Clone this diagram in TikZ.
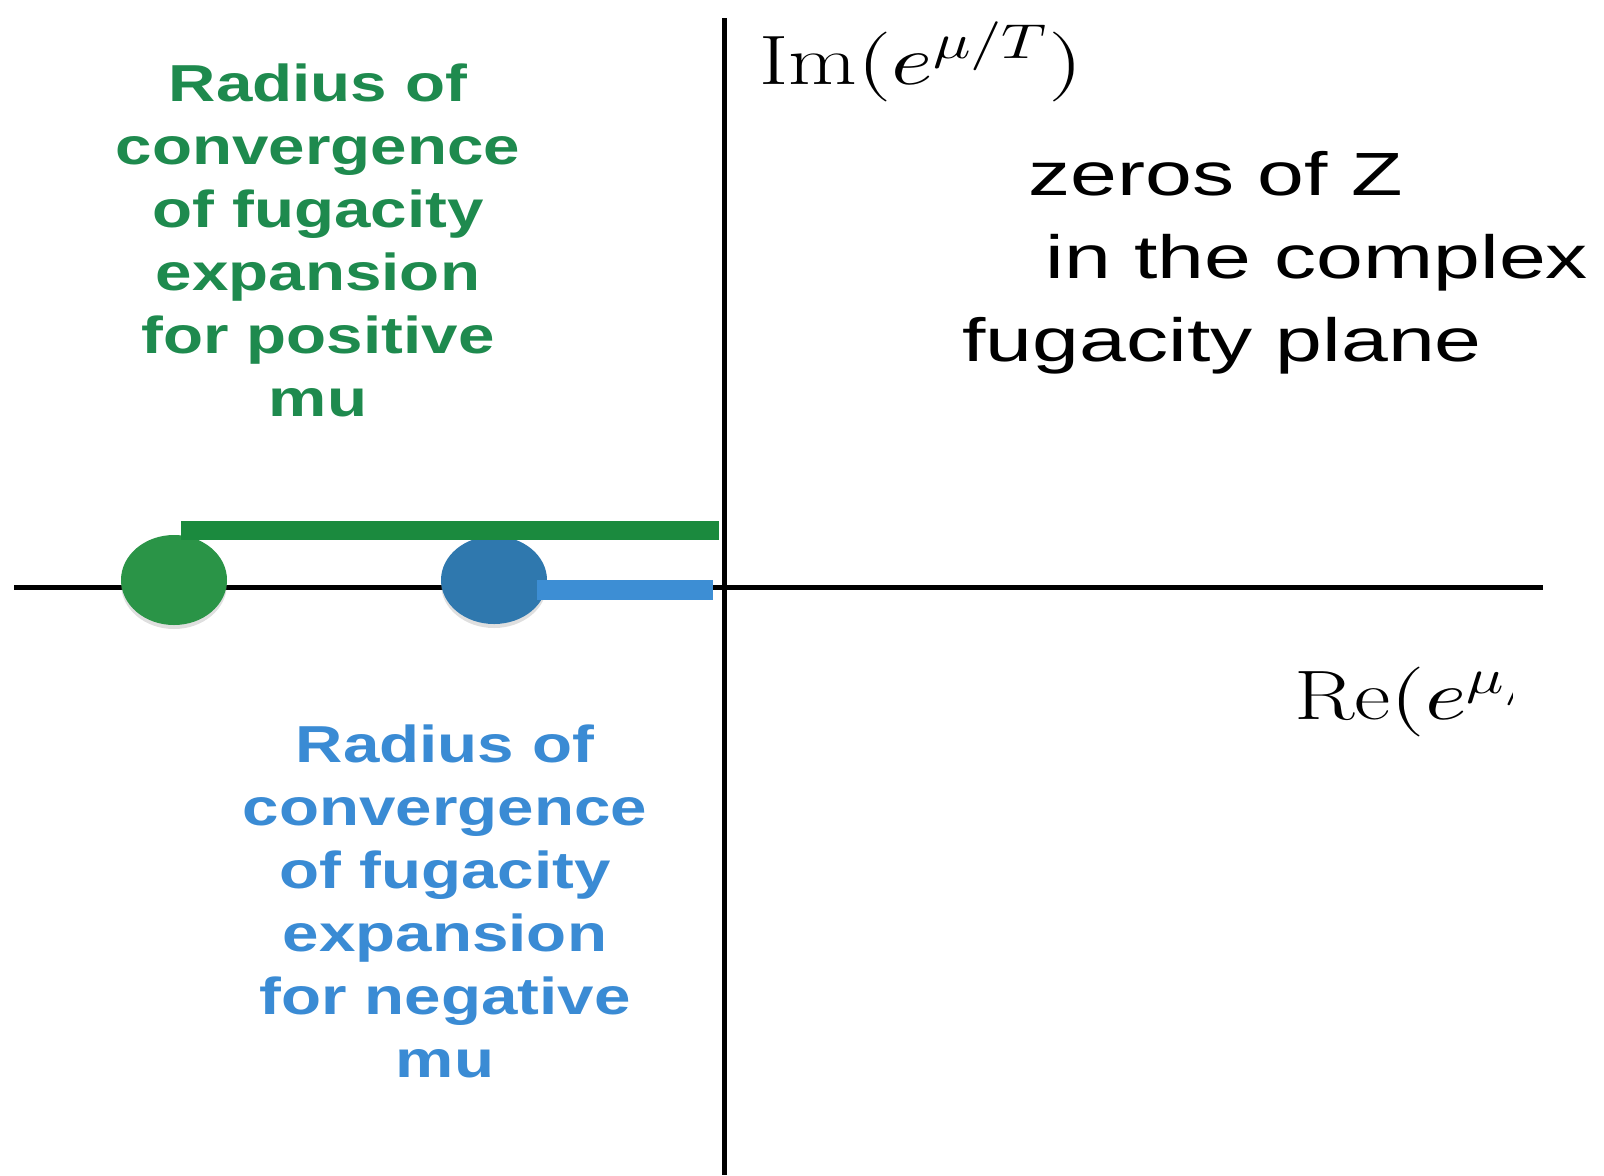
\documentclass[tikz,border=0pt]{standalone}
\usepackage{fontspec}
\usepackage{unicode-math}
\setmathfont{Latin Modern Math}
\usepackage{graphicx}
\usetikzlibrary{shapes.geometric,shadows}
\newfontfamily\boldwide[FakeStretch=1.26]{Liberation Sans Bold}
\newfontfamily\regwide[FakeStretch=1.38]{Liberation Sans}
\definecolor{gline}{HTML}{1B8A3E}
\definecolor{gdot}{HTML}{2A9447}
\definecolor{gtext}{HTML}{1E8A4E}
\definecolor{bdot}{HTML}{2F78AE}
\definecolor{bline}{HTML}{3D8ED4}
\definecolor{btext}{HTML}{3A8BD4}
\tikzset{
  axisline/.style={line width=2.5pt, black},
  dotnode/.style={ellipse, inner sep=0pt, minimum width=53pt, minimum height=45pt,
    drop shadow={opacity=0.25, shadow xshift=0pt, shadow yshift=-2pt}},
  gtxt/.style={text=gtext, align=center, inner sep=0pt, anchor=north,
    font=\boldwide\fontsize{26}{31.5}\selectfont},
  btxt/.style={text=btext, align=center, inner sep=0pt, anchor=north,
    font=\boldwide\fontsize{26}{31.5}\selectfont},
  ktxt/.style={text=black, inner sep=0pt, anchor=base west,
    font=\regwide\fontsize{30.5}{36}\selectfont},
  mlabel/.style={text=black, inner sep=0pt, anchor=base west,
    font=\fontsize{35}{40}\selectfont},
}
\begin{document}
\begin{tikzpicture}[x=0.5pt, y=-0.5pt]
  \useasboundingbox (0,0) rectangle (1604,1175);
  % axes
  \coordinate (xl) at (14,587);
  \coordinate (xr) at (1543,587);
  \coordinate (yt) at (724,18);
  \coordinate (yb) at (724,1175);
  \draw[axisline] (xl) -- (xr);
  \draw[axisline] (yt) -- (yb);
  % dots
  \node[dotnode, fill=gdot] (gd) at (174,580) {};
  \node[dotnode, fill=bdot, minimum height=44pt] (bd) at (494,580) {};
  % radius bars
  \coordinate (gs) at (181,530);
  \coordinate (ge) at (719,530);
  \coordinate (bs) at (537,590);
  \coordinate (be) at (713,590);
  \draw[gline, line width=9.5pt] (gs) -- (ge);
  \draw[bline, line width=10pt] (bs) -- (be);
  % texts
  \node[gtxt] (gt) at (318,63) {Radius of\\convergence\\of fugacity\\expansion\\for positive\\mu};
  \node[btxt] (bt) at (445,724) {Radius of\\convergence\\of fugacity\\expansion\\for negative\\mu};
  \node[ktxt] (k1) at (1028,195) {zeros of Z};
  \node[ktxt] (k2) at (1045,278) {in the complex};
  \node[ktxt] (k3) at (962,361) {fugacity plane};
  % axis labels
  \node[mlabel] (im) at (759,84) {\scalebox{1.27}[1]{$\mathrm{Im}(e^{\mu/T})$}};
  \begin{scope}
    \clip (0,0) rectangle (1512,1175);
    \node[mlabel] (re) at (1294,719) {\scalebox{1.27}[1]{$\mathrm{Re}(e^{\mu/T})$}};
  \end{scope}
\end{tikzpicture}
\end{document}
